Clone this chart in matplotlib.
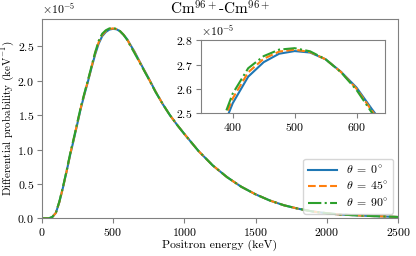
import numpy as np
import matplotlib
matplotlib.use('Agg')
import matplotlib.pyplot as plt

plt.rcParams['font.family'] = 'serif'
plt.rcParams['font.serif'] = ['cmr10', 'DejaVu Serif']
plt.rcParams['mathtext.fontset'] = 'cm'
plt.rcParams['axes.formatter.use_mathtext'] = True
plt.rcParams['axes.unicode_minus'] = True

# Positron energy grid (keV)
energy = [0, 50, 75, 100, 125, 150, 175, 200, 225, 250, 275, 300, 325, 350, 375,
          400, 425, 450, 475, 500, 525, 550, 575, 600, 625, 650, 700, 750, 800,
          850, 900, 950, 1000, 1100, 1200, 1300, 1400, 1500, 1600, 1700, 1800,
          1900, 2000, 2100, 2200, 2300, 2400, 2500]

# Differential probability, units of 1e-5 keV^-1
prob_0 = [0, 0.0, 0.02, 0.08, 0.24, 0.45, 0.68, 0.92, 1.14, 1.37, 1.60, 1.80,
          1.99, 2.19, 2.38, 2.54, 2.65, 2.71, 2.745, 2.756, 2.75, 2.722, 2.67,
          2.605, 2.515, 2.43, 2.23, 2.04, 1.84, 1.66, 1.50, 1.36, 1.23, 0.98,
          0.77, 0.60, 0.46, 0.35, 0.26, 0.19, 0.14, 0.10, 0.075, 0.055, 0.045,
          0.035, 0.028, 0.02]
prob_45 = [0, 0.0, 0.02, 0.08, 0.24, 0.45, 0.68, 0.93, 1.15, 1.38, 1.61, 1.81,
           2.00, 2.20, 2.40, 2.56, 2.668, 2.724, 2.754, 2.762, 2.752, 2.722,
           2.669, 2.60, 2.508, 2.42, 2.225, 2.035, 1.84, 1.66, 1.50, 1.36,
           1.23, 0.98, 0.77, 0.60, 0.46, 0.35, 0.26, 0.19, 0.14, 0.10, 0.075,
           0.055, 0.045, 0.035, 0.028, 0.02]
prob_90 = [0, 0.0, 0.02, 0.08, 0.25, 0.46, 0.69, 0.94, 1.16, 1.39, 1.62, 1.82,
           2.01, 2.21, 2.41, 2.58, 2.685, 2.735, 2.762, 2.768, 2.755, 2.722,
           2.668, 2.595, 2.50, 2.41, 2.22, 2.03, 1.835, 1.66, 1.50, 1.36,
           1.23, 0.98, 0.77, 0.60, 0.46, 0.35, 0.26, 0.19, 0.14, 0.10, 0.075,
           0.055, 0.045, 0.035, 0.028, 0.02]

labels = [r'$\theta\;=\;0^{\circ}$', r'$\theta\;=\;45^{\circ}$', r'$\theta\;=\;90^{\circ}$']
series = [prob_0, prob_45, prob_90]
styles = ['-', '--', '-.']
colors = ['#1f77b4', '#ff7f0e', '#2ca02c']

x = np.array(energy)
fig = plt.figure(figsize=(4.16, 2.56), dpi=100)
ax = fig.add_axes([0.100, 0.147, 0.857, 0.779])

for ys, lab, ls, c in zip(series, labels, styles, colors):
    ax.plot(x, np.array(ys) * 1e-5, ls=ls, color=c, lw=1.5, label=lab)

ax.set_xlim(0, 2500)
ax.set_ylim(0, 2.9e-5)
ax.set_xticks([0, 500, 1000, 1500, 2000, 2500])
ax.set_yticks([0, 0.5e-5, 1.0e-5, 1.5e-5, 2.0e-5, 2.5e-5])
ax.set_xlabel('Positron energy (keV)', fontsize=8.5, labelpad=1)
ax.set_ylabel(r'Differential probability (keV$^{-1}$)', fontsize=8, labelpad=1)
ax.set_title(r'Cm$^{96+}$-Cm$^{96+}$', fontsize=11, pad=3)
ax.tick_params(labelsize=8.5, color='gray', pad=2)
ax.yaxis.get_offset_text().set_fontsize(8.5)
for s in ax.spines.values():
    s.set_color('gray')

ax.legend(loc='lower right', fontsize=8.5, handlelength=2.4,
          borderaxespad=0.4, labelspacing=0.35)

# inset zoom on the peak
axin = fig.add_axes([0.482, 0.559, 0.4435, 0.283])
for ys, ls, c in zip(series, styles, colors):
    axin.plot(x, np.array(ys) * 1e-5, ls=ls, color=c, lw=1.5)
axin.set_xlim(348, 646)
axin.set_ylim(2.5e-5, 2.8e-5)
axin.set_xticks([400, 500, 600])
axin.set_yticks([2.5e-5, 2.6e-5, 2.7e-5, 2.8e-5])
axin.tick_params(labelsize=8.5, color='gray', pad=2)
axin.yaxis.get_offset_text().set_fontsize(8.5)
for s in axin.spines.values():
    s.set_color('gray')

fig.savefig('out.png', dpi=100)
